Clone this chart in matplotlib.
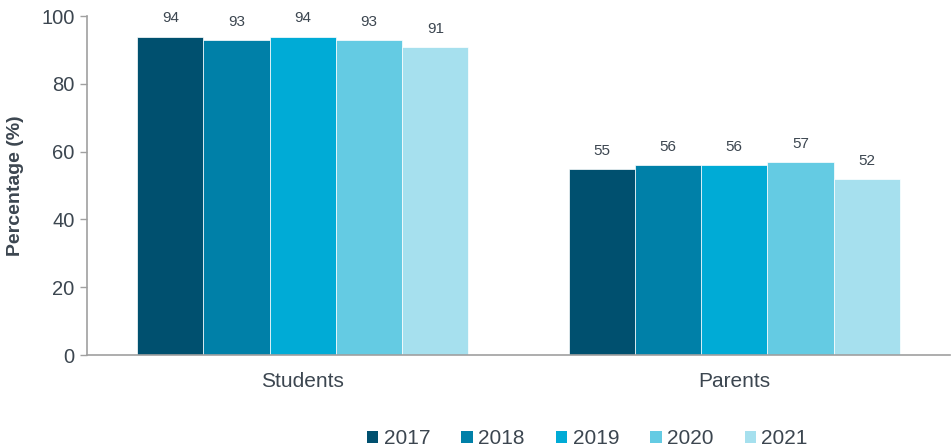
import numpy as np
import matplotlib.pyplot as plt
from matplotlib.patches import Patch

plt.rcParams['font.family'] = ['Liberation Sans', 'DejaVu Sans']

# Survey results by year
groups = ["Students", "Parents"]
years = ["2017", "2018", "2019", "2020", "2021"]
values_2017 = [94, 55]
values_2018 = [93, 56]
values_2019 = [94, 56]
values_2020 = [93, 57]
values_2021 = [91, 52]
colours = ["#00506F", "#0080A8", "#00ABD6", "#64CBE3", "#A6E0EE"]

TEXT = "#3C4650"
AXIS = "#A0A0A0"

series = [values_2017, values_2018, values_2019, values_2020, values_2021]

fig = plt.figure(figsize=(9.52, 4.47), dpi=100)
ax = fig.add_axes([0.0914, 0.2058, 0.9066, 0.758])

x = np.arange(len(groups))
width = 0.1535
for i, (vals, col) in enumerate(zip(series, colours)):
    pos = x + (i - 2) * width
    bars = ax.bar(pos, vals, width, color=col, edgecolor="white", linewidth=0.5)
    for b, v in zip(bars, vals):
        ax.annotate(f"{v}", (b.get_x() + b.get_width() / 2, v),
                    xytext=(0, 8), textcoords="offset points",
                    ha="center", va="bottom", fontsize=11, color=TEXT)

ax.set_xlim(-0.5, 1.5)
ax.set_ylim(0, 100)
ax.set_yticks(range(0, 101, 20))
ax.set_xticks(x)
ax.set_xticklabels(groups)
ax.tick_params(axis="x", length=0, pad=12, labelsize=15, labelcolor=TEXT)
ax.tick_params(axis="y", length=5, width=1, color=AXIS, labelsize=14.5,
               labelcolor=TEXT, pad=4)
ax.set_ylabel("Percentage (%)", fontsize=14, fontweight="bold", color=TEXT,
              labelpad=12)

for s in ["top", "right"]:
    ax.spines[s].set_visible(False)
for s in ["left", "bottom"]:
    ax.spines[s].set_color(AXIS)
    ax.spines[s].set_linewidth(1.2)

handles = [Patch(facecolor=c, edgecolor="none") for c in colours]
fig.legend(handles, years, loc="center", ncol=5, frameon=False,
           bbox_to_anchor=(0.617, 0.018), fontsize=15, labelcolor=TEXT,
           handlelength=0.55, handleheight=0.55, handletextpad=0.25,
           columnspacing=1.5, borderpad=0.2)

fig.savefig("out.png", dpi=100)
